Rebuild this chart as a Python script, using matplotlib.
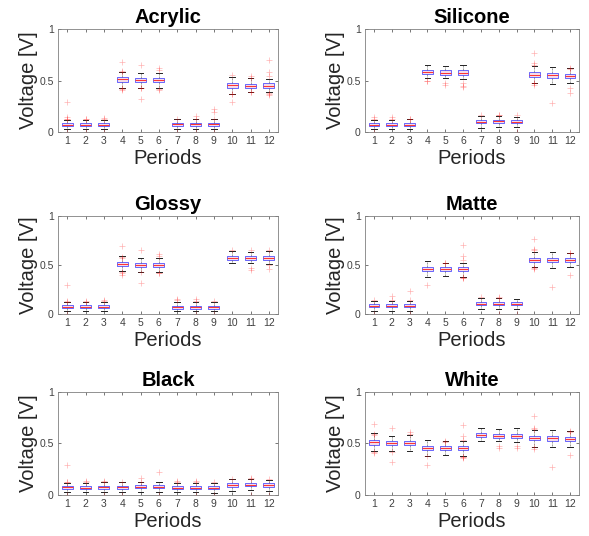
import matplotlib
matplotlib.use("Agg")
import matplotlib.pyplot as plt

plt.rcParams['font.family'] = ['Liberation Sans', 'DejaVu Sans']

periods = list(range(1, 13))
period_labels = [str(p) for p in periods]

# ---- Acrylic ----
acrylic_med = [0.072, 0.070, 0.072, 0.510, 0.505, 0.505, 0.075, 0.075, 0.075, 0.455, 0.450, 0.450]
acrylic_q1 = [0.057, 0.056, 0.057, 0.490, 0.485, 0.485, 0.060, 0.060, 0.060, 0.430, 0.430, 0.430]
acrylic_q3 = [0.085, 0.084, 0.085, 0.530, 0.525, 0.525, 0.090, 0.090, 0.090, 0.480, 0.470, 0.475]
acrylic_lo = [0.030, 0.030, 0.030, 0.430, 0.430, 0.430, 0.025, 0.025, 0.025, 0.370, 0.390, 0.390]
acrylic_hi = [0.115, 0.115, 0.120, 0.580, 0.570, 0.575, 0.125, 0.125, 0.125, 0.535, 0.520, 0.515]
acrylic_out = [[0.29, 0.146, 0.124, 0.125, 0.0], [0.125, 0.13, 0.0], [0.14, 0.13, 0.0],
               [0.68, 0.585, 0.59, 0.43, 0.42, 0.41], [0.65, 0.32, 0.43, 0.425], [0.62, 0.60, 0.42, 0.41],
               [0.13, 0.0], [0.16, 0.13, 0.0], [0.22, 0.19, 0.13, 0.0],
               [0.55, 0.37, 0.365, 0.29], [0.54, 0.525, 0.39, 0.385], [0.70, 0.58, 0.54, 0.375, 0.37, 0.36]]

# ---- Silicone ----
silicone_med = [0.071, 0.071, 0.071, 0.580, 0.575, 0.575, 0.100, 0.103, 0.100, 0.550, 0.550, 0.540]
silicone_q1 = [0.058, 0.058, 0.058, 0.560, 0.555, 0.555, 0.085, 0.088, 0.085, 0.530, 0.525, 0.520]
silicone_q3 = [0.085, 0.085, 0.085, 0.605, 0.600, 0.600, 0.118, 0.120, 0.118, 0.580, 0.575, 0.565]
silicone_lo = [0.026, 0.026, 0.026, 0.520, 0.520, 0.510, 0.040, 0.045, 0.045, 0.480, 0.470, 0.480]
silicone_hi = [0.116, 0.120, 0.125, 0.650, 0.645, 0.655, 0.160, 0.160, 0.150, 0.640, 0.630, 0.620]
silicone_out = [[0.13, 0.15, 0.0], [0.13, 0.15], [0.13, 0.125],
                [0.50, 0.495], [0.48, 0.46], [0.48, 0.45, 0.44],
                [0.17], [0.17, 0.165], [0.17, 0.0],
                [0.77, 0.67, 0.65, 0.48, 0.475, 0.46], [0.28], [0.62, 0.615, 0.43, 0.38]]

# ---- Glossy ----
glossy_med = [0.075, 0.072, 0.075, 0.507, 0.500, 0.500, 0.070, 0.070, 0.070, 0.575, 0.570, 0.570]
glossy_q1 = [0.060, 0.058, 0.060, 0.487, 0.480, 0.480, 0.055, 0.055, 0.055, 0.555, 0.550, 0.550]
glossy_q3 = [0.090, 0.087, 0.090, 0.527, 0.520, 0.520, 0.085, 0.085, 0.085, 0.595, 0.590, 0.590]
glossy_lo = [0.030, 0.030, 0.030, 0.440, 0.430, 0.430, 0.030, 0.030, 0.030, 0.520, 0.520, 0.510]
glossy_hi = [0.120, 0.120, 0.125, 0.590, 0.575, 0.575, 0.125, 0.125, 0.125, 0.640, 0.635, 0.640]
glossy_out = [[0.30, 0.13, 0.125, 0.0], [0.13, 0.125], [0.145, 0.13],
              [0.69, 0.585, 0.575, 0.43, 0.42, 0.40], [0.65, 0.32, 0.43], [0.61, 0.595, 0.42, 0.415],
              [0.15, 0.14], [0.15, 0.135, 0.0], [0.13, 0.0],
              [0.65], [0.65, 0.47, 0.45], [0.65, 0.50, 0.455]]

# ---- Matte ----
matte_med = [0.083, 0.083, 0.083, 0.460, 0.457, 0.457, 0.104, 0.104, 0.104, 0.553, 0.550, 0.550]
matte_q1 = [0.068, 0.068, 0.068, 0.440, 0.437, 0.437, 0.088, 0.088, 0.088, 0.533, 0.530, 0.530]
matte_q3 = [0.097, 0.097, 0.097, 0.480, 0.477, 0.477, 0.120, 0.120, 0.120, 0.575, 0.570, 0.570]
matte_lo = [0.030, 0.030, 0.030, 0.380, 0.390, 0.380, 0.050, 0.050, 0.050, 0.480, 0.470, 0.480]
matte_hi = [0.135, 0.135, 0.135, 0.540, 0.525, 0.525, 0.160, 0.160, 0.150, 0.635, 0.635, 0.620]
matte_out = [[0.14, 0.0], [0.18, 0.14], [0.23, 0.14, 0.0],
             [0.30], [0.525, 0.52], [0.70, 0.59, 0.55, 0.375, 0.37, 0.365],
             [0.17], [0.17, 0.165, 0.0], [0.0],
             [0.77, 0.665, 0.65, 0.48, 0.47, 0.46], [0.28], [0.625, 0.62, 0.40]]

# ---- Black ----
black_med = [0.074, 0.070, 0.073, 0.078, 0.080, 0.080, 0.070, 0.070, 0.070, 0.096, 0.100, 0.097]
black_q1 = [0.060, 0.057, 0.058, 0.062, 0.064, 0.064, 0.056, 0.056, 0.056, 0.080, 0.085, 0.082]
black_q3 = [0.088, 0.085, 0.087, 0.092, 0.094, 0.094, 0.085, 0.085, 0.085, 0.112, 0.116, 0.113]
black_lo = [0.030, 0.030, 0.025, 0.025, 0.025, 0.025, 0.030, 0.025, 0.020, 0.040, 0.045, 0.040]
black_hi = [0.120, 0.120, 0.125, 0.125, 0.125, 0.125, 0.120, 0.120, 0.120, 0.155, 0.155, 0.150]
black_out = [[0.29, 0.13, 0.125, 0.0], [0.135, 0.125], [0.14, 0.13, 0.0],
             [0.13, 0.0], [0.165, 0.13], [0.22, 0.0],
             [0.135, 0.125], [0.14, 0.125, 0.0], [0.13, 0.0],
             [0.16], [0.165, 0.16, 0.0], [0.16, 0.0]]

# ---- White ----
white_med = [0.510, 0.503, 0.503, 0.460, 0.460, 0.455, 0.586, 0.576, 0.576, 0.550, 0.550, 0.545]
white_q1 = [0.490, 0.483, 0.483, 0.440, 0.440, 0.435, 0.566, 0.556, 0.556, 0.530, 0.527, 0.525]
white_q3 = [0.530, 0.523, 0.523, 0.480, 0.480, 0.475, 0.606, 0.596, 0.596, 0.570, 0.572, 0.565]
white_lo = [0.430, 0.430, 0.430, 0.380, 0.390, 0.380, 0.520, 0.520, 0.510, 0.470, 0.470, 0.470]
white_hi = [0.600, 0.576, 0.580, 0.534, 0.520, 0.520, 0.655, 0.645, 0.655, 0.630, 0.630, 0.620]
white_out = [[0.69, 0.59, 0.585, 0.42, 0.41], [0.655, 0.42, 0.32], [0.61, 0.59],
             [0.29, 0.38], [0.52, 0.515], [0.68, 0.57, 0.535, 0.37, 0.365, 0.36],
             [], [0.48, 0.46], [0.48, 0.46],
             [0.765, 0.655, 0.64, 0.47, 0.45], [0.275], [0.625, 0.615, 0.385]]

panels = [
    ('Acrylic', acrylic_med, acrylic_q1, acrylic_q3, acrylic_lo, acrylic_hi, acrylic_out),
    ('Silicone', silicone_med, silicone_q1, silicone_q3, silicone_lo, silicone_hi, silicone_out),
    ('Glossy', glossy_med, glossy_q1, glossy_q3, glossy_lo, glossy_hi, glossy_out),
    ('Matte', matte_med, matte_q1, matte_q3, matte_lo, matte_hi, matte_out),
    ('Black', black_med, black_q1, black_q3, black_lo, black_hi, black_out),
    ('White', white_med, white_q1, white_q3, white_lo, white_hi, white_out),
]

# axes rectangles in figure fractions (589 x 536 px)
col_x = [(0.0985, 0.3735), (0.6197, 0.3633)]
row_y = [(0.7537, 0.1922), (0.4142, 0.1828), (0.0765, 0.1922)]

fig = plt.figure(figsize=(5.89, 5.36), dpi=100, facecolor='w')

for i, (name, med, q1, q3, lo, hi, out) in enumerate(panels):
    r, c = divmod(i, 2)
    x0, w = col_x[c]
    y0, h = row_y[r]
    ax = fig.add_axes([x0, y0, w, h])

    stats = []
    for k in range(len(periods)):
        stats.append({'med': med[k], 'q1': q1[k], 'q3': q3[k],
                      'whislo': lo[k], 'whishi': hi[k], 'fliers': out[k]})

    ax.bxp(stats, positions=periods, widths=0.6, patch_artist=True,
           boxprops=dict(facecolor='#f4dbe8', edgecolor='#3030ff', linewidth=0.5),
           medianprops=dict(color='#ff3030', linewidth=0.7),
           whiskerprops=dict(color='#555555', linewidth=0.4, linestyle='--'),
           capprops=dict(color='#222222', linewidth=0.7),
           flierprops=dict(marker='+', markeredgecolor='red', markersize=5,
                           markeredgewidth=0.5, alpha=0.3, linestyle='none'))

    ax.set_xlim(0.5, 12.5)
    ax.set_ylim(0, 1)
    ax.set_xticks(periods)
    ax.set_xticklabels(period_labels)
    ax.set_yticks([0, 0.5, 1])
    ax.set_yticklabels(['0', '0.5', '1'])
    ax.tick_params(direction='in', top=True, right=True, length=2.5, width=0.5,
                   colors='#404040', labelsize=7.5, pad=3)
    for sp in ax.spines.values():
        sp.set_color('#808080')
        sp.set_linewidth(0.6)

    ax.set_title(name, fontsize=14.5, fontweight='bold', pad=4)
    ax.set_xlabel('Periods', fontsize=14.5, color='#262626', labelpad=2)
    ax.set_ylabel('Voltage [V]', fontsize=14.5, color='#262626', labelpad=1)

fig.savefig('out.png', dpi=100)
